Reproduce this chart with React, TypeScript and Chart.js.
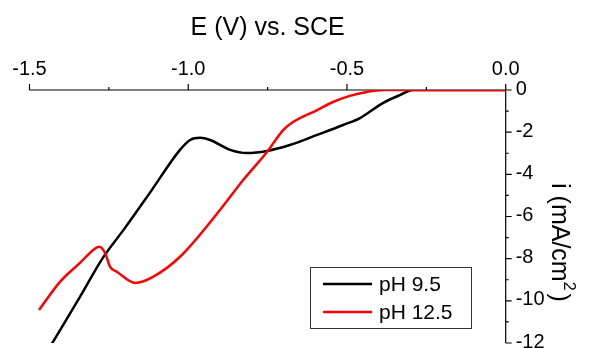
import React, { useEffect, useRef } from "react";
import { Chart, registerables } from "chart.js";

Chart.register(...registerables);

// Potential (V vs. SCE) and current density (mA/cm²) for each solution
const ph95Potential = [-1.44, -1.341, -1.269, -1.199, -1.121, -1.026, -0.994, -0.963, -0.931, -0.868, -0.815, -0.752, -0.68, -0.594, -0.512, -0.459, -0.387, -0.333, -0.292, -0.2, 0];
const ph95Current = [-12.3, -9.81, -7.96, -6.54, -4.88, -2.84, -2.37, -2.27, -2.37, -2.84, -2.99, -2.89, -2.61, -2.13, -1.66, -1.33, -0.62, -0.24, 0, 0, 0];

const ph125Potential = [-1.47, -1.404, -1.341, -1.3, -1.281, -1.262, -1.246, -1.224, -1.167, -1.111, -1.026, -0.9, -0.827, -0.752, -0.701, -0.67, -0.594, -0.544, -0.491, -0.437, -0.387, -0.2, 0];
const ph125Current = [-10.43, -9.1, -8.2, -7.6, -7.44, -7.73, -8.39, -8.63, -9.15, -8.86, -7.91, -5.69, -4.27, -2.94, -1.9, -1.52, -0.95, -0.57, -0.28, -0.09, 0, 0, 0];

const seriesLabels = ["pH 9.5", "pH 12.5"];
const seriesColors = ["#000000", "#ff0000"];

const xMajorTicks = [-1.5, -1.0, -0.5, 0.0];
const xTickLabels = ["-1.5", "-1.0", "-0.5", "0.0"];
const xMinorTicks = [-1.25, -0.75, -0.25];
const yMajorTicks = [0, -2, -4, -6, -8, -10, -12];
const yTickLabels = ["0", "-2", "-4", "-6", "-8", "-10", "-12"];
const yMinorTicks = [-1, -3, -5, -7, -9, -11];

const xTitle = "E (V) vs. SCE";
const yTitleMain = "i (mA/cm";
const yTitleSup = "2";
const yTitleEnd = ")";

const FONT = "'Liberation Sans', Arial, sans-serif";

const toPoints = (xs: number[], ys: number[]) => xs.map((x, i) => ({ x, y: ys[i] }));

// Axes, tick marks, labels, titles and the legend box
const decorations = {
  id: "decorations",
  beforeDatasetsDraw(chart: any) {
    const { ctx, chartArea } = chart;
    const xs = chart.scales.x;
    const ys = chart.scales.y;
    ctx.save();
    ctx.strokeStyle = "#000";
    ctx.lineWidth = 1.2;
    ctx.beginPath();
    // top x axis
    ctx.moveTo(chartArea.left, chartArea.top);
    ctx.lineTo(chartArea.right, chartArea.top);
    // right y axis
    ctx.moveTo(chartArea.right, chartArea.top);
    ctx.lineTo(chartArea.right, chartArea.bottom);
    xMajorTicks.forEach((v) => {
      const px = xs.getPixelForValue(v);
      ctx.moveTo(px, chartArea.top);
      ctx.lineTo(px, chartArea.top - 6);
    });
    xMinorTicks.forEach((v) => {
      const px = xs.getPixelForValue(v);
      ctx.moveTo(px, chartArea.top);
      ctx.lineTo(px, chartArea.top - 3);
    });
    yMajorTicks.forEach((v) => {
      const py = ys.getPixelForValue(v);
      ctx.moveTo(chartArea.right, py);
      ctx.lineTo(chartArea.right + 6, py);
    });
    yMinorTicks.forEach((v) => {
      const py = ys.getPixelForValue(v);
      ctx.moveTo(chartArea.right, py);
      ctx.lineTo(chartArea.right + 3, py);
    });
    ctx.stroke();

    ctx.fillStyle = "#000";
    ctx.font = `20px ${FONT}`;
    ctx.textAlign = "center";
    ctx.textBaseline = "alphabetic";
    xMajorTicks.forEach((v, i) => {
      ctx.fillText(xTickLabels[i], xs.getPixelForValue(v), chartArea.top - 15);
    });
    ctx.textAlign = "left";
    ctx.textBaseline = "middle";
    yMajorTicks.forEach((v, i) => {
      ctx.fillText(yTickLabels[i], chartArea.right + 10, ys.getPixelForValue(v) - 1);
    });

    // x title
    ctx.font = `25px ${FONT}`;
    ctx.textAlign = "center";
    ctx.textBaseline = "alphabetic";
    ctx.fillText(xTitle, (chartArea.left + chartArea.right) / 2, 35);

    // y title, rotated to read downward
    ctx.save();
    ctx.translate(chartArea.right + 53, (chartArea.top + chartArea.bottom) / 2 + 26);
    ctx.rotate(Math.PI / 2);
    ctx.font = `25px ${FONT}`;
    const wMain = ctx.measureText(yTitleMain).width;
    ctx.font = `16px ${FONT}`;
    const wSup = ctx.measureText(yTitleSup).width;
    ctx.font = `25px ${FONT}`;
    const wEnd = ctx.measureText(yTitleEnd).width;
    const total = wMain + wSup + 3 + wEnd;
    let x0 = -total / 2;
    ctx.textAlign = "left";
    ctx.textBaseline = "middle";
    ctx.fillText(yTitleMain, x0, 0);
    x0 += wMain;
    ctx.font = `16px ${FONT}`;
    ctx.fillText(yTitleSup, x0, -10);
    x0 += wSup + 3;
    ctx.font = `25px ${FONT}`;
    ctx.fillText(yTitleEnd, x0, 0);
    ctx.restore();
    ctx.restore();
  },
  afterDraw(chart: any) {
    const { ctx } = chart;
    ctx.save();
    const bx = 310, by = 267, bw = 161, bh = 61;
    ctx.fillStyle = "#fff";
    ctx.fillRect(bx, by, bw, bh);
    ctx.strokeStyle = "#333";
    ctx.lineWidth = 1;
    ctx.strokeRect(bx + 0.5, by + 0.5, bw, bh);
    ctx.font = `21px ${FONT}`;
    ctx.textAlign = "left";
    ctx.textBaseline = "middle";
    chart.data.datasets.forEach((ds: any, i: number) => {
      const ly = by + 17 + i * 28;
      ctx.strokeStyle = ds.borderColor;
      ctx.lineWidth = 2.5;
      ctx.beginPath();
      ctx.moveTo(bx + 13, ly);
      ctx.lineTo(bx + 62, ly);
      ctx.stroke();
      ctx.fillStyle = "#000";
      ctx.fillText(ds.label, bx + 69, ly + 1);
    });
    ctx.restore();
  },
};

export default function App() {
  const canvasRef = useRef<HTMLCanvasElement | null>(null);

  useEffect(() => {
    if (!canvasRef.current) return;
    const chart = new Chart(canvasRef.current, {
      type: "line",
      data: {
        datasets: [
          {
            label: seriesLabels[0],
            data: toPoints(ph95Potential, ph95Current),
            borderColor: seriesColors[0],
            borderWidth: 2.5,
            pointRadius: 0,
            cubicInterpolationMode: "monotone",
            order: 1,
          },
          {
            label: seriesLabels[1],
            data: toPoints(ph125Potential, ph125Current),
            borderColor: seriesColors[1],
            borderWidth: 2.5,
            pointRadius: 0,
            cubicInterpolationMode: "monotone",
            order: 0,
          },
        ],
      },
      options: {
        responsive: false,
        animation: false,
        devicePixelRatio: 1,
        layout: { padding: { left: 29.5, right: 0, top: 0, bottom: 5 } },
        plugins: { legend: { display: false }, tooltip: { enabled: false } },
        scales: {
          x: {
            type: "linear",
            position: "top",
            min: -1.5,
            max: 0,
            grid: { display: false },
            border: { display: false },
            ticks: { display: false },
            afterFit: (s: any) => {
              s.height = 90;
            },
          },
          y: {
            type: "linear",
            position: "right",
            min: -12,
            max: 0,
            grid: { display: false },
            border: { display: false },
            ticks: { display: false },
            afterFit: (s: any) => {
              s.width = 83.3;
            },
          },
        },
      },
      plugins: [decorations],
    } as any);
    return () => chart.destroy();
  }, []);

  return (
    <div style={{ position: "absolute", left: 0, top: 0, width: 589, height: 348, background: "#fff" }}>
      <canvas ref={canvasRef} width={589} height={348} />
    </div>
  );
}
